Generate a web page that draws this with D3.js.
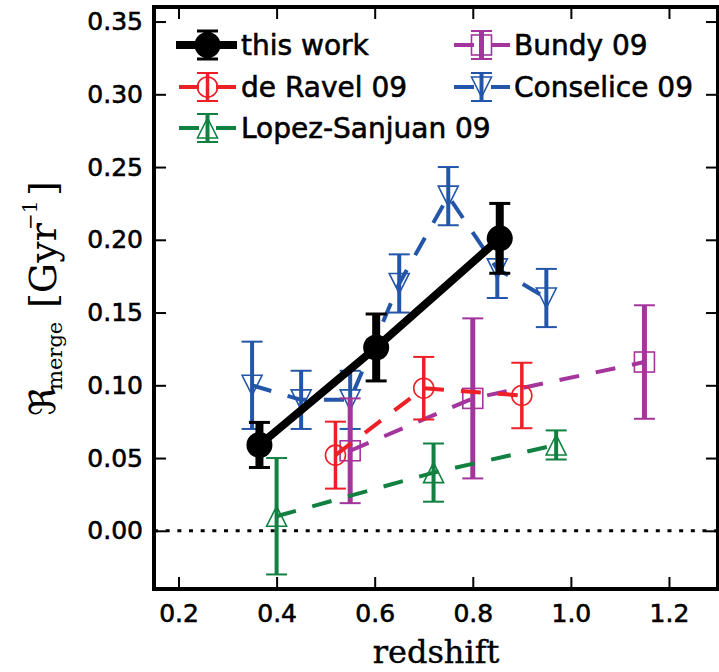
<!DOCTYPE html>
<html>
<head>
<meta charset="utf-8">
<script src="https://d3js.org/d3.v7.min.js"></script>
<style>
body { margin: 0; background: #fff; }
</style>
</head>
<body>
<svg id="chart" width="719" height="672"></svg>
<script>
// tick values
var xTicks = [0.2, 0.4, 0.6, 0.8, 1.0, 1.2];
var yTicks = [0.00, 0.05, 0.10, 0.15, 0.20, 0.25, 0.30, 0.35];

// this work
var workZ = [0.365, 0.603, 0.855];
var workR = [0.059, 0.126, 0.201];
var workErr = [0.0155, 0.023, 0.024];

// de Ravel 09
var ravelZ = [0.52, 0.70, 0.90];
var ravelR = [0.052, 0.098, 0.093];
var ravelErr = [0.023, 0.0215, 0.0225];

// Bundy 09
var bundyZ = [0.55, 0.80, 1.15];
var bundyR = [0.055, 0.091, 0.116];
var bundyErr = [0.036, 0.055, 0.039];

// Conselice 09
var conZ = [0.35, 0.45, 0.55, 0.65, 0.75, 0.85, 0.95];
var conR = [0.10, 0.09, 0.09, 0.17, 0.23, 0.18, 0.16];
var conErr = [0.03, 0.02, 0.02, 0.02, 0.02, 0.02, 0.02];

// Lopez-Sanjuan 09
var lopezZ = [0.40, 0.72, 0.97];
var lopezR = [0.01, 0.04, 0.059];
var lopezErr = [0.04, 0.02, 0.01];

var svg = d3.select("#chart");

var x = d3.scaleLinear().domain([0.15, 1.3]).range([154, 718]);
var y = d3.scaleLinear().domain([-0.04, 0.36]).range([589, 7]);

// zero line
svg.append("line")
  .attr("x1", x.range()[0]).attr("x2", x.range()[1])
  .attr("y1", y(0)).attr("y2", y(0))
  .attr("stroke", "black").attr("stroke-width", 3)
  .attr("stroke-dasharray", "4 7.67");

function marker(g, type, cx, cy, color) {
  if (type == "dot") {
    g.append("circle").attr("cx", cx).attr("cy", cy).attr("r", 13).attr("fill", "black");
  } else if (type == "circle") {
    g.append("circle").attr("cx", cx).attr("cy", cy).attr("r", 10)
      .attr("fill", "none").attr("stroke", color).attr("stroke-width", 1.6);
  } else if (type == "square") {
    g.append("rect").attr("x", cx - 10).attr("y", cy - 10).attr("width", 20).attr("height", 20)
      .attr("fill", "none").attr("stroke", color).attr("stroke-width", 1.6);
  } else if (type == "up") {
    g.append("path").attr("d", "M" + cx + "," + (cy - 10) + "L" + (cx + 10) + "," + (cy + 10) + "L" + (cx - 10) + "," + (cy + 10) + "Z")
      .attr("fill", "none").attr("stroke", color).attr("stroke-width", 1.6);
  } else if (type == "down") {
    g.append("path").attr("d", "M" + cx + "," + (cy + 10) + "L" + (cx + 10) + "," + (cy - 10) + "L" + (cx - 10) + "," + (cy - 10) + "Z")
      .attr("fill", "none").attr("stroke", color).attr("stroke-width", 1.6);
  }
}

function errbar(g, cx, y1, y2, s) {
  g.append("line").attr("x1", cx).attr("x2", cx).attr("y1", y1).attr("y2", y2)
    .attr("stroke", s.color).attr("stroke-width", s.ew);
  [y1, y2].forEach(function(v) {
    g.append("line").attr("x1", cx - 10.5).attr("x2", cx + 10.5).attr("y1", v).attr("y2", v)
      .attr("stroke", s.color).attr("stroke-width", s.cw);
  });
}

var series = [
  {name: "Conselice 09", z: conZ, r: conR, e: conErr, color: "#2356a8", marker: "down", lw: 4, ew: 4, cw: 2, dash: "20 17", col: 1, row: 1},
  {name: "Bundy 09", z: bundyZ, r: bundyR, e: bundyErr, color: "#a3359c", marker: "square", lw: 4, ew: 5, cw: 2, dash: "20 17", col: 1, row: 0},
  {name: "de Ravel 09", z: ravelZ, r: ravelR, e: ravelErr, color: "#ee1f26", marker: "circle", lw: 4, ew: 3.5, cw: 2, dash: "20 17", col: 0, row: 1},
  {name: "Lopez-Sanjuan 09", z: lopezZ, r: lopezR, e: lopezErr, color: "#118040", marker: "up", lw: 4, ew: 4, cw: 2, dash: "20 17", col: 0, row: 2},
  {name: "this work", z: workZ, r: workR, e: workErr, color: "black", marker: "dot", lw: 8, ew: 8, cw: 3, dash: null, col: 0, row: 0}
];

var line = d3.line().x(function(d) { return x(d[0]); }).y(function(d) { return y(d[1]); });

series.forEach(function(s) {
  var g = svg.append("g");
  var pts = s.z.map(function(z, i) { return [z, s.r[i]]; });
  g.append("path").attr("d", line(pts))
    .attr("fill", "none").attr("stroke", s.color).attr("stroke-width", s.lw)
    .attr("stroke-dasharray", s.dash);
  pts.forEach(function(p, i) {
    errbar(g, x(p[0]), y(p[1] - s.e[i]), y(p[1] + s.e[i]), s);
    marker(g, s.marker, x(p[0]), y(p[1]), s.color);
  });
});

// axes, ticks pointing inward on all sides
function styleAxis(a) {
  a.select(".domain").remove();
  a.selectAll(".tick line").attr("stroke", "black").attr("stroke-width", 2);
  a.selectAll(".tick text").attr("fill", "black").attr("stroke", "black").attr("stroke-width", 0.6);
  a.attr("font-family", "DejaVu Sans").attr("font-size", 25);
}
svg.append("g").attr("transform", "translate(0," + y.range()[0] + ")")
  .call(d3.axisBottom(x).tickValues(xTicks).tickSize(-12).tickPadding(15).tickFormat(d3.format(".1f")))
  .call(styleAxis);
svg.append("g").attr("transform", "translate(0," + y.range()[1] + ")")
  .call(d3.axisTop(x).tickValues(xTicks).tickSize(-12).tickFormat(""))
  .call(styleAxis);
svg.append("g").attr("transform", "translate(" + x.range()[0] + ",0)")
  .call(d3.axisLeft(y).tickValues(yTicks).tickSize(-12).tickPadding(11).tickFormat(d3.format(".2f")))
  .call(styleAxis);
svg.append("g").attr("transform", "translate(" + x.range()[1] + ",0)")
  .call(d3.axisRight(y).tickValues(yTicks).tickSize(-12).tickFormat(""))
  .call(styleAxis);

// frame
svg.append("rect")
  .attr("x", x.range()[0]).attr("y", y.range()[1])
  .attr("width", x.range()[1] - x.range()[0]).attr("height", y.range()[0] - y.range()[1])
  .attr("fill", "none").attr("stroke", "black").attr("stroke-width", 4);

// legend
var legCols = [{x0: 178, x1: 237, tx: 241}, {x0: 453, x1: 510, tx: 514}];
var legRows = [45, 87, 128];
var order = ["this work", "de Ravel 09", "Lopez-Sanjuan 09", "Bundy 09", "Conselice 09"];
order.forEach(function(n) {
  var s = series.find(function(d) { return d.name == n; });
  var c = legCols[s.col], ry = legRows[s.row];
  var g = svg.append("g");
  var cx = (c.x0 + c.x1) / 2;
  g.append("line").attr("x1", s.dash ? c.x0 + 1 : c.x0 - 2).attr("x2", c.x1)
    .attr("y1", ry).attr("y2", ry)
    .attr("stroke", s.color).attr("stroke-width", s.lw).attr("stroke-dasharray", s.dash);
  errbar(g, cx, ry - 14, ry + 14, s);
  marker(g, s.marker, cx, ry, s.color);
  g.append("text").attr("x", c.tx).attr("y", ry + 10)
    .attr("font-family", "DejaVu Sans").attr("font-size", 28)
    .attr("fill", "black").attr("stroke", "black").attr("stroke-width", 0.6)
    .text(s.name);
});

// axis labels
svg.append("text").attr("x", 436).attr("y", 663)
  .attr("text-anchor", "middle").attr("font-family", "DejaVu Serif").attr("font-size", 32)
  .attr("fill", "black").attr("stroke", "black").attr("stroke-width", 0.4)
  .text("redshift");

var yl = svg.append("text").attr("transform", "rotate(-90)")
  .attr("font-family", "DejaVu Serif, DejaVu Sans").attr("fill", "black");
yl.append("tspan").attr("x", -416).attr("y", 55).attr("font-size", 36).text("\u211C");
yl.append("tspan").attr("x", -390).attr("y", 62).attr("font-size", 21).text("merge");
yl.append("tspan").attr("x", -308).attr("y", 56).attr("font-size", 38).text("[Gyr");
yl.append("tspan").attr("x", -230).attr("y", 37).attr("font-size", 20).text("\u22121");
yl.append("tspan").attr("x", -196).attr("y", 56).attr("font-size", 38).text("]");
</script>
</body>
</html>
